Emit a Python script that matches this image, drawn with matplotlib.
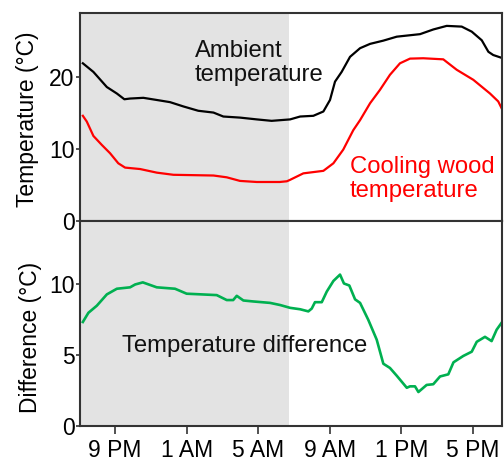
import matplotlib
matplotlib.use("Agg")
import matplotlib.pyplot as plt

plt.rcParams['font.family'] = ['Liberation Sans', 'DejaVu Sans']

# hours (21 = 9 PM, 25 = 1 AM, ... 41 = 5 PM)
amb_h = [19.2, 19.79, 20.54, 21.1, 21.52, 21.84, 22.58, 23.33, 24.07, 24.82, 25.65,
         26.5, 27.05, 27.98, 28.92, 29.75, 30.78, 31.34, 32.08, 32.64, 33.01, 33.29,
         33.66, 34.13, 34.69, 35.25, 35.99, 36.74, 38.04, 38.78, 39.53, 40.37, 40.93,
         41.49, 41.86, 42.13, 42.55]
amb_t = [21.9, 20.7, 18.6, 17.7, 16.9, 17.0, 17.1, 16.8, 16.5, 15.9, 15.3,
         15.05, 14.5, 14.35, 14.1, 13.9, 14.1, 14.5, 14.6, 15.2, 16.8, 19.35,
         20.7, 22.8, 24.0, 24.6, 25.05, 25.6, 25.95, 26.6, 27.1, 27.0, 26.3,
         25.1, 23.5, 23.05, 22.7]

wood_h = [19.2, 19.42, 19.79, 20.26, 20.72, 21.18, 21.56, 22.4, 23.33, 24.26, 26.5,
          27.24, 27.98, 28.92, 30.2, 30.6, 30.78, 31.52, 32.64, 33.2, 33.75, 34.31,
          34.69, 35.25, 35.8, 36.36, 36.92, 37.48, 38.22, 39.34, 40.09, 41.02, 41.95,
          42.41, 42.6]
wood_t = [14.6, 13.8, 11.8, 10.55, 9.4, 8.0, 7.4, 7.2, 6.7, 6.4, 6.3,
          6.05, 5.55, 5.4, 5.4, 5.5, 5.7, 6.6, 6.95, 8.0, 9.9, 12.6,
          14.0, 16.35, 18.2, 20.3, 21.9, 22.55, 22.6, 22.45, 21.0, 19.6, 17.7,
          16.6, 15.65]

diff_h = [19.2, 19.51, 19.98, 20.26, 20.54, 21.1, 21.84, 22.12, 22.55, 23.33, 24.35,
          25.0, 26.68, 27.24, 27.6, 27.8, 28.17, 28.73, 29.66, 30.22, 30.78, 31.34,
          31.8, 31.99, 32.17, 32.55, 32.83, 33.2, 33.57, 33.79, 34.09, 34.41, 34.69,
          35.15, 35.62, 35.99, 36.36, 36.74, 37.3, 37.48, 37.76, 37.95, 38.41, 38.78,
          39.16, 39.62, 39.91, 40.46, 40.93, 41.21, 41.67, 42.04, 42.32, 42.6]
diff_v = [7.35, 8.0, 8.5, 8.9, 9.3, 9.7, 9.8, 10.0, 10.15, 9.8, 9.7,
          9.35, 9.25, 8.9, 8.9, 9.2, 8.87, 8.8, 8.7, 8.55, 8.35, 8.25,
          8.1, 8.3, 8.75, 8.75, 9.5, 10.25, 10.7, 10.07, 9.93, 8.95, 8.7,
          7.5, 6.1, 4.4, 4.1, 3.55, 2.7, 2.8, 2.8, 2.4, 2.9, 2.95,
          3.5, 3.65, 4.5, 4.95, 5.25, 5.95, 6.3, 6.0, 6.8, 7.3]

tick_pos = [21, 25, 29, 33, 37, 41]
tick_labels = ['9 PM', '1 AM', '5 AM', '9 AM', '1 PM', '5 PM']
night_start, night_end = 19.0, 30.73

fig = plt.figure(figsize=(5.04, 4.62), dpi=100)
ax1 = fig.add_axes([0.1587, 0.522, 0.8373, 0.450])
ax2 = fig.add_axes([0.1587, 0.078, 0.8373, 0.444])

FS = 16.5
FT = 17.2
spine_c = '#333333'
for ax in (ax1, ax2):
    ax.axvspan(night_start, night_end, color='#e3e3e3', lw=0, zorder=0)
    ax.set_xlim(19.04, 42.62)
    for s in ax.spines.values():
        s.set_color(spine_c)
        s.set_linewidth(1.5)
    ax.tick_params(axis='y', direction='out', length=3, width=1.2, color=spine_c,
                   labelsize=FS, pad=1)
    ax.tick_params(axis='x', direction='out', length=6, width=1.2, color=spine_c,
                   labelsize=FS, pad=3.5)

ax1.plot(amb_h, amb_t, color='black', lw=1.6)
ax1.plot(wood_h, wood_t, color='#ff0000', lw=1.6)
ax1.set_ylim(0, 28.9)
ax1.set_yticks([0, 10, 20])
ax1.set_xticks(tick_pos)
ax1.tick_params(axis='x', bottom=False, labelbottom=False)
ax1.set_ylabel('Temperature (°C)', fontsize=FS)
ax1.text(25.47, 21.9, 'Ambient\ntemperature', fontsize=FT, color='#111111',
         ha='left', va='center', linespacing=1.1)
ax1.text(34.13, 5.85, 'Cooling wood\ntemperature', fontsize=FT, color='#ff0000',
         ha='left', va='center', linespacing=1.1)

ax2.plot(diff_h, diff_v, color='#00b050', lw=1.9)
ax2.set_ylim(0, 14.5)
ax2.set_yticks([0, 5, 10])
ax2.set_xticks(tick_pos)
ax2.set_xticklabels(tick_labels)
ax2.set_ylabel('Difference (°C)', fontsize=FS)
ax2.text(28.26, 5.63, 'Temperature difference', fontsize=FT, color='#111111',
         ha='center', va='center')

ax1.yaxis.set_label_coords(-0.098, 0.488)
ax2.yaxis.set_label_coords(-0.09, 0.434)

fig.savefig('out.png', dpi=100)
